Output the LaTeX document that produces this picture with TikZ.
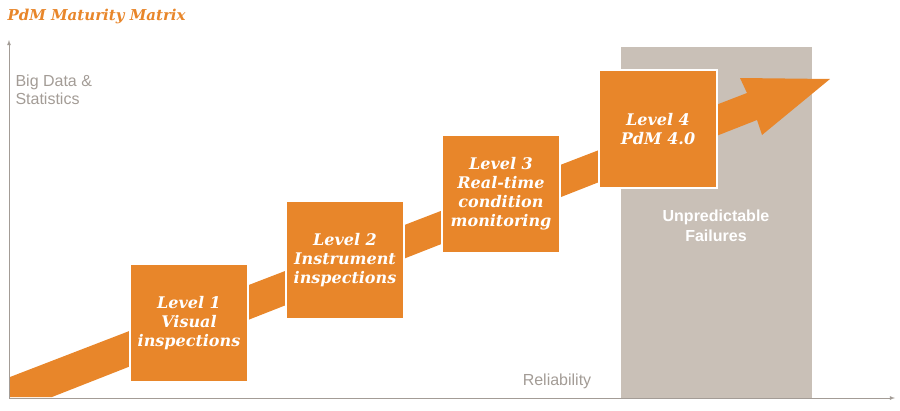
\documentclass[tikz,border=0pt]{standalone}
\usepackage{fontspec}
\setmainfont{DejaVu Serif}
\setsansfont{Liberation Sans}
\usetikzlibrary{positioning}
\definecolor{pwcorange}{HTML}{E8862A}
\definecolor{zonegray}{HTML}{C9C0B7}
\definecolor{axisgray}{HTML}{A39C96}
\tikzset{
  levelbox/.style={fill=pwcorange, draw=white, line width=1.5pt, minimum width=118pt, minimum height=118pt,
    align=center, text=white, font=\fontsize{16}{19}\selectfont\bfseries\itshape, inner sep=2pt},
  axislabel/.style={text=axisgray, font=\sffamily\fontsize{16}{18}\selectfont, align=left}
}
\begin{document}
\begin{tikzpicture}[x=1pt,y=-1pt]
  \useasboundingbox (0,0) rectangle (900,410);
  % title
  \node[anchor=west, text=pwcorange, font=\fontsize{15}{18}\selectfont\bfseries\itshape] (title) at (4,16) {PdM Maturity Matrix};
  % unpredictable zone
  \fill[zonegray] (621,47) rectangle (812,398);
  \node[text=white, font=\sffamily\bfseries\fontsize{16}{20}\selectfont, align=center] (zone) at (716,226) {Unpredictable\\Failures};
  % band with arrowhead
  \fill[pwcorange] (10,377) -- (10,397) -- (52,397) -- (757,120) -- (762,135) -- (830,79) -- (740,78) -- (747,93) -- cycle;
  % axes
  \coordinate (origin) at (9,398);
  \coordinate (ytop) at (9,40);
  \coordinate (xend) at (895,398);
  \draw[axisgray, line width=0.8pt, -latex] (origin) -- (ytop);
  \draw[axisgray, line width=0.8pt, -latex] (origin) -- (xend);
  \node[axislabel, anchor=north west] (ylab) at (12,71) {Big Data \&\\Statistics};
  \node[axislabel] (xlab) at (557,381) {Reliability};
  % levels
  \node[levelbox] (lvl1) at (189,323) {Level 1\\Visual\\inspections};
  \node[levelbox] (lvl2) at (345,260) {Level 2\\Instrument\\inspections};
  \node[levelbox] (lvl3) at (501,194) {Level 3\\Real-time\\condition\\monitoring};
  \node[levelbox] (lvl4) at (658,129) {Level 4\\PdM 4.0};
\end{tikzpicture}
\end{document}
